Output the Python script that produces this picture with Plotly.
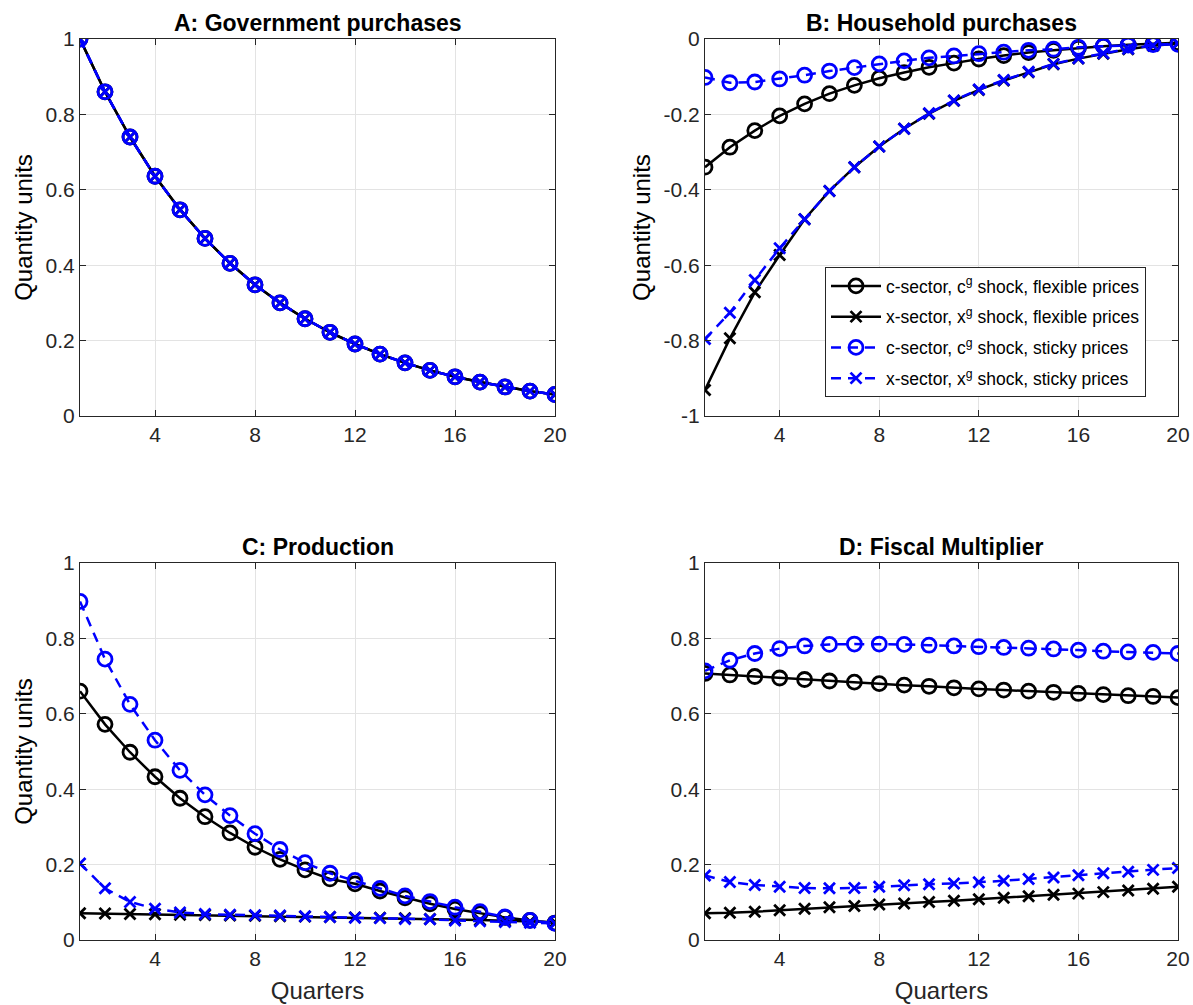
import plotly.graph_objects as go
from plotly.subplots import make_subplots

quarters = list(range(1, 21))

# Panel A: Government purchases (all four series coincide)
gov = [1.0, 0.86, 0.74, 0.636, 0.547, 0.471, 0.405, 0.348, 0.300, 0.258,
       0.222, 0.191, 0.164, 0.141, 0.121, 0.104, 0.090, 0.077, 0.066, 0.057]

# Panel B: Household purchases
hh_c_flex = [-0.340, -0.287, -0.243, -0.204, -0.172, -0.145, -0.123, -0.104, -0.089, -0.075,
             -0.064, -0.053, -0.044, -0.036, -0.030, -0.024, -0.019, -0.015, -0.012, -0.010]
hh_x_flex = [-0.931, -0.794, -0.672, -0.573, -0.478, -0.403, -0.340, -0.285, -0.238, -0.198,
             -0.164, -0.135, -0.110, -0.088, -0.067, -0.052, -0.039, -0.027, -0.018, -0.012]
hh_c_sticky = [-0.102, -0.116, -0.114, -0.106, -0.096, -0.085, -0.076, -0.066, -0.058, -0.050,
               -0.045, -0.039, -0.035, -0.030, -0.027, -0.022, -0.019, -0.016, -0.015, -0.014]
hh_x_sticky = [-0.796, -0.726, -0.639, -0.555, -0.478, -0.403, -0.340, -0.285, -0.238, -0.197,
               -0.163, -0.134, -0.109, -0.087, -0.066, -0.051, -0.038, -0.026, -0.017, -0.011]

# Panel C: Production
pr_c_flex = [0.660, 0.572, 0.498, 0.433, 0.376, 0.327, 0.284, 0.246, 0.214, 0.186,
             0.162, 0.149, 0.130, 0.112, 0.096, 0.082, 0.070, 0.060, 0.052, 0.045]
pr_x_flex = [0.071, 0.070, 0.069, 0.068, 0.067, 0.066, 0.065, 0.064, 0.063, 0.062,
             0.061, 0.060, 0.059, 0.058, 0.056, 0.055, 0.053, 0.051, 0.049, 0.047]
pr_c_sticky = [0.898, 0.745, 0.625, 0.530, 0.450, 0.385, 0.330, 0.282, 0.240, 0.205,
               0.177, 0.158, 0.137, 0.117, 0.102, 0.087, 0.075, 0.061, 0.052, 0.044]
pr_x_sticky = [0.203, 0.137, 0.101, 0.083, 0.073, 0.069, 0.067, 0.066, 0.065, 0.063,
               0.061, 0.059, 0.058, 0.056, 0.055, 0.052, 0.050, 0.048, 0.046, 0.044]

# Panel D: Fiscal multiplier
fm_c_flex = [0.707, 0.703, 0.699, 0.695, 0.691, 0.687, 0.684, 0.680, 0.676, 0.673,
             0.669, 0.666, 0.663, 0.660, 0.657, 0.654, 0.651, 0.648, 0.646, 0.643]
fm_x_flex = [0.071, 0.072, 0.075, 0.079, 0.083, 0.087, 0.090, 0.094, 0.097, 0.101,
             0.104, 0.108, 0.112, 0.116, 0.120, 0.123, 0.127, 0.131, 0.136, 0.141]
fm_c_sticky = [0.714, 0.742, 0.760, 0.773, 0.780, 0.784, 0.785, 0.785, 0.784, 0.782,
               0.780, 0.778, 0.776, 0.774, 0.772, 0.769, 0.766, 0.764, 0.763, 0.760]
fm_x_sticky = [0.171, 0.154, 0.146, 0.141, 0.138, 0.137, 0.138, 0.141, 0.145, 0.148,
               0.150, 0.153, 0.157, 0.162, 0.166, 0.172, 0.177, 0.181, 0.186, 0.191]

titles = ["A: Government purchases", "B: Household purchases", "C: Production", "D: Fiscal Multiplier"]
legend_names = ["c-sector, c<sup>g</sup> shock, flexible prices",
                "x-sector, x<sup>g</sup> shock, flexible prices",
                "c-sector, c<sup>g</sup> shock, sticky prices",
                "x-sector, x<sup>g</sup> shock, sticky prices"]

panels = [
    (gov, gov, gov, gov),
    (hh_c_flex, hh_x_flex, hh_c_sticky, hh_x_sticky),
    (pr_c_flex, pr_x_flex, pr_c_sticky, pr_x_sticky),
    (fm_c_flex, fm_x_flex, fm_c_sticky, fm_x_sticky),
]
yranges = [(0, 1), (-1, 0), (0, 1), (0, 1)]

W, H = 1193, 1005
px_x = [(80, 555), (705, 1178), (80, 555), (705, 1178)]
px_y = [(39, 416), (39, 416), (563, 940), (563, 940)]

fig = make_subplots(rows=2, cols=2)
pos = [(1, 1), (1, 2), (2, 1), (2, 2)]

BLUE = "#0000ff"
BLACK = "#000000"
styles = [
    (BLACK, "solid", "circle-open"),
    (BLACK, "solid", "x-thin-open"),
    (BLUE, "10px,7px", "circle-open"),
    (BLUE, "10px,7px", "x-thin-open"),
]

for pi, series in enumerate(panels):
    r, c = pos[pi]
    for si, ys in enumerate(series):
        color, dash, sym = styles[si]
        fig.add_trace(go.Scatter(
            x=quarters, y=ys, mode="lines+markers",
            name=legend_names[si], legendgroup="g%d" % si,
            showlegend=(pi == 1),
            line=dict(color=color, width=2.5, dash=dash),
            marker=dict(symbol=sym, size=14 if "circle" in sym else 11,
                        color=color, line=dict(color=color, width=2.8)),
        ), row=r, col=c)

font_family = "Liberation Sans, Arial, sans-serif"
for pi in range(4):
    r, c = pos[pi]
    xd = [px_x[pi][0] / W, px_x[pi][1] / W]
    yd = [1 - px_y[pi][1] / H, 1 - px_y[pi][0] / H]
    lo, hi = yranges[pi]
    fig.update_xaxes(domain=xd, range=[1, 20], tickvals=[4, 8, 12, 16, 20],
                     automargin=False,
                     showgrid=True, gridcolor="#e3e3e3", gridwidth=1,
                     ticks="inside", ticklen=6, tickcolor="#262626",
                     showline=True, linecolor="#262626", linewidth=1, mirror="ticks",
                     zeroline=False, tickfont=dict(size=21, color="#262626", family=font_family),
                     title=dict(text="Quarters" if pi >= 2 else "",
                                font=dict(size=24, color="#262626", family=font_family), standoff=12),
                     row=r, col=c)
    fig.update_yaxes(domain=yd, range=[lo, hi], automargin=False,
                     tickvals=[lo + k * 0.2 for k in range(6)],
                     ticktext=[("%g" % round(lo + k * 0.2, 1)) for k in range(6)],
                     showgrid=True, gridcolor="#e3e3e3", gridwidth=1,
                     ticks="inside", ticklen=6, tickcolor="#262626",
                     showline=True, linecolor="#262626", linewidth=1, mirror="ticks",
                     zeroline=False, tickfont=dict(size=21, color="#262626", family=font_family),
                     title=dict(text="Quantity units" if pi in (0, 1, 2) else "",
                                font=dict(size=24, color="#000000", family=font_family), standoff=6),
                     row=r, col=c)
    fig.add_annotation(text="<b>" + titles[pi] + "</b>", xref="paper", yref="paper",
                       x=(xd[0] + xd[1]) / 2, y=yd[1], yanchor="bottom", xanchor="center",
                       showarrow=False, yshift=1,
                       font=dict(size=23, color="#000000", family=font_family))

fig.update_layout(
    width=W, height=H, plot_bgcolor="white", paper_bgcolor="white",
    margin=dict(l=0, r=0, t=0, b=0),
    showlegend=True,
    legend=dict(x=825 / W, y=1 - 267 / H, xanchor="left", yanchor="top",
                bgcolor="white", bordercolor="#262626", borderwidth=1,
                font=dict(size=17.5, color="#000000", family=font_family),
                tracegroupgap=5, itemwidth=50),
)

fig.write_html("out.html", config={"displayModeBar": False},
               post_script="document.body.style.margin='0';document.body.style.overflow='hidden';")
